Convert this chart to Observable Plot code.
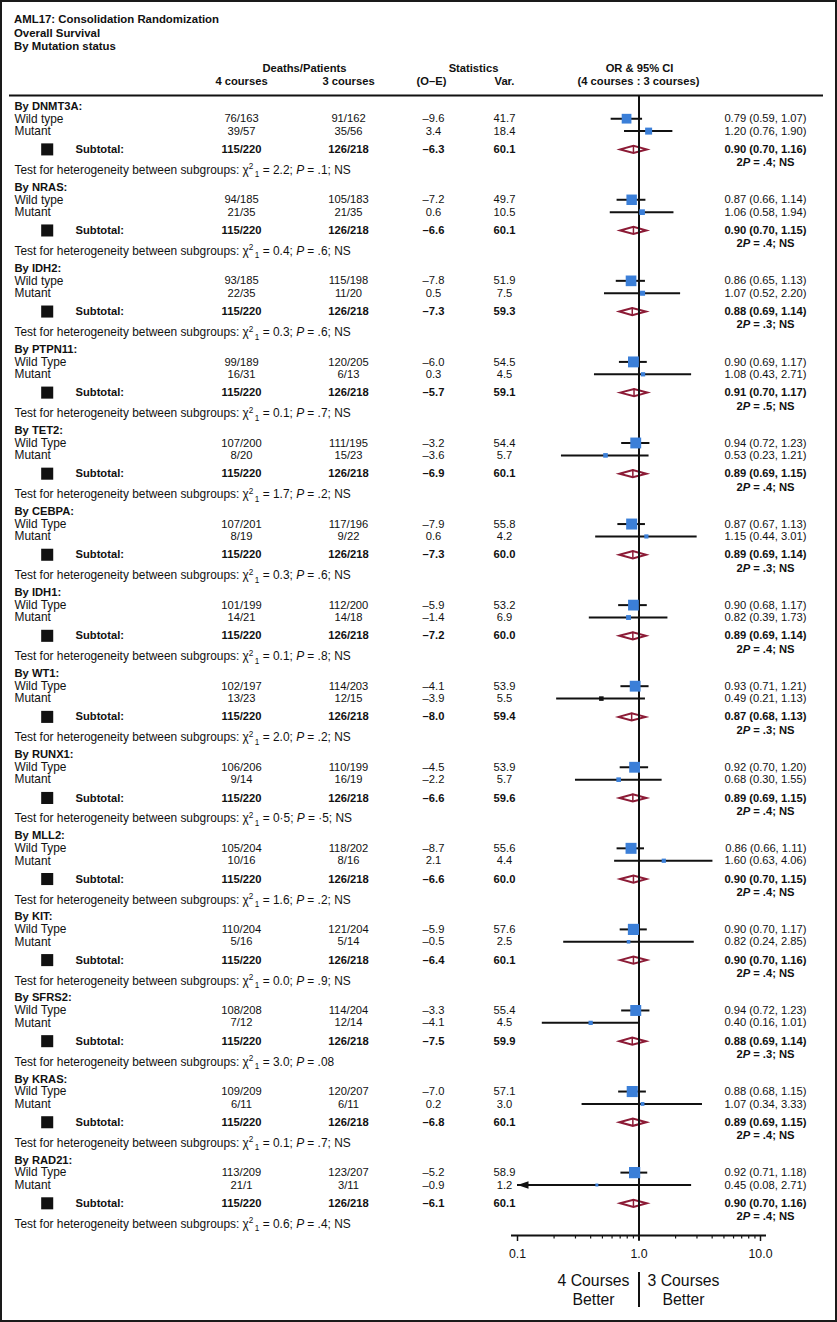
<!DOCTYPE html>
<html><head><meta charset="utf-8">
<script src="https://cdn.jsdelivr.net/npm/d3@7"></script>
<script src="https://cdn.jsdelivr.net/npm/@observablehq/plot@0.6"></script>
<style>
body{margin:0;background:#fff;}
#wrap{position:relative;width:837px;height:1322px;overflow:hidden;font-family:"Liberation Sans",Arial,sans-serif;color:#111;background:#fff;}
#frame{position:absolute;left:0;top:0;width:837px;height:1322px;border:2px solid #1a1a1a;box-sizing:border-box;pointer-events:none;}
#title{position:absolute;left:14px;top:13px;font-weight:bold;font-size:11.4px;line-height:13.6px;}
#chart{position:absolute;left:0;top:56px;}
</style></head><body>
<div id="wrap">
<div id="title">AML17: Consolidation Randomization<br>Overall Survival<br>By Mutation status</div>
<div id="chart"></div>
<div id="frame"></div>
</div>
<script>
// ---------- data ----------
const genes = ["DNMT3A","NRAS","IDH2","PTPN11","TET2","CEBPA","IDH1","WT1","RUNX1","MLL2","KIT","SFRS2","KRAS","RAD21"];
const wtLabels = ["Wild type","Wild type","Wild type","Wild Type","Wild Type","Wild Type","Wild Type","Wild Type","Wild Type","Wild Type","Wild Type","Wild Type","Wild Type","Wild Type"];
const wtDeaths4 = ["76/163","94/185","93/185","99/189","107/200","107/201","101/199","102/197","106/206","105/204","110/204","108/208","109/209","113/209"];
const wtDeaths3 = ["91/162","105/183","115/198","120/205","111/195","117/196","112/200","114/203","110/199","118/202","121/204","114/204","120/207","123/207"];
const wtOE  = [-9.6,-7.2,-7.8,-6.0,-3.2,-7.9,-5.9,-4.1,-4.5,-8.7,-5.9,-3.3,-7.0,-5.2];
const wtVar = [41.7,49.7,51.9,54.5,54.4,55.8,53.2,53.9,53.9,55.6,57.6,55.4,57.1,58.9];
const wtOR  = [0.79,0.87,0.86,0.90,0.94,0.87,0.90,0.93,0.92,0.86,0.90,0.94,0.88,0.92];
const wtLo  = [0.59,0.66,0.65,0.69,0.72,0.67,0.68,0.71,0.70,0.66,0.70,0.72,0.68,0.71];
const wtHi  = [1.07,1.14,1.13,1.17,1.23,1.13,1.17,1.21,1.20,1.11,1.17,1.23,1.15,1.18];
const mutDeaths4 = ["39/57","21/35","22/35","16/31","8/20","8/19","14/21","13/23","9/14","10/16","5/16","7/12","6/11","21/1"];
const mutDeaths3 = ["35/56","21/35","11/20","6/13","15/23","9/22","14/18","12/15","16/19","8/16","5/14","12/14","6/11","3/11"];
const mutOE  = [3.4,0.6,0.5,0.3,-3.6,0.6,-1.4,-3.9,-2.2,2.1,-0.5,-4.1,0.2,-0.9];
const mutVar = [18.4,10.5,7.5,4.5,5.7,4.2,6.9,5.5,5.7,4.4,2.5,4.5,3.0,1.2];
const mutOR  = [1.20,1.06,1.07,1.08,0.53,1.15,0.82,0.49,0.68,1.60,0.82,0.40,1.07,0.45];
const mutLo  = [0.76,0.58,0.52,0.43,0.23,0.44,0.39,0.21,0.30,0.63,0.24,0.16,0.34,0.08];
const mutHi  = [1.90,1.94,2.20,2.71,1.21,3.01,1.73,1.13,1.55,4.06,2.85,1.01,3.33,2.71];
const subDeaths4 = ["115/220","115/220","115/220","115/220","115/220","115/220","115/220","115/220","115/220","115/220","115/220","115/220","115/220","115/220"];
const subDeaths3 = ["126/218","126/218","126/218","126/218","126/218","126/218","126/218","126/218","126/218","126/218","126/218","126/218","126/218","126/218"];
const subOE  = [-6.3,-6.6,-7.3,-5.7,-6.9,-7.3,-7.2,-8.0,-6.6,-6.6,-6.4,-7.5,-6.8,-6.1];
const subVar = [60.1,60.1,59.3,59.1,60.1,60.0,60.0,59.4,59.6,60.0,60.1,59.9,60.1,60.1];
const subOR  = [0.90,0.90,0.88,0.91,0.89,0.89,0.89,0.87,0.89,0.90,0.90,0.88,0.89,0.90];
const subLo  = [0.70,0.70,0.69,0.70,0.69,0.69,0.69,0.68,0.69,0.70,0.70,0.69,0.69,0.70];
const subHi  = [1.16,1.15,1.14,1.17,1.15,1.14,1.14,1.13,1.15,1.15,1.16,1.14,1.15,1.16];
const subP   = [".4",".4",".3",".5",".4",".3",".4",".3",".4",".4",".4",".3",".4",".4"];
const hetChi = ["2.2","0.4","0.3","0.1","1.7","0.3","0.1","2.0","0·5","1.6","0.0","3.0","0.1","0.6"];
const hetP   = [".1",".6",".6",".7",".2",".6",".8",".2","·5",".2",".9",".08",".7",".4"];
const hetNS  = [true,true,true,true,true,true,true,true,true,true,true,false,true,true];
const tickValues = [0.1, 1, 10];
const tickLabels = ["0.1", "1.0", "10.0"];
const minorTicks = [0.2,0.3,0.4,0.5,0.6,0.7,0.8,0.9,2,3,4,5,6,7,8,9];

// ---------- layout ----------
const INK = "#111", BLUE = "#3b7fd8", RED = "#8c1b36";
const W = 837, TOP = 56, H = 1322 - TOP;
const Y0 = 105.6, GAP = 81.07;
const NUM = 11.2, LAB = 11.9;

const fmtOE = v => (v < 0 ? "–" : "") + Math.abs(v).toFixed(1);
const fmtOR = d => `${d.or.toFixed(2)} (${d.lo.toFixed(2)}, ${d.hi.toFixed(2)})`;

const heads = genes.map((g, i) => ({gene: g, y: Y0 + i * GAP, label: `By ${g}:`}));
const studies = genes.flatMap((g, i) => [
  {gene: g, kind: "wt", y: Y0 + i * GAP + 12.6, label: wtLabels[i], d4: wtDeaths4[i], d3: wtDeaths3[i],
   oe: wtOE[i], v: wtVar[i], or: wtOR[i], lo: wtLo[i], hi: wtHi[i]},
  {gene: g, kind: "mut", y: Y0 + i * GAP + 25, label: "Mutant", d4: mutDeaths4[i], d3: mutDeaths3[i],
   oe: mutOE[i], v: mutVar[i], or: mutOR[i], lo: mutLo[i], hi: mutHi[i]}
]);
const subs = genes.map((g, i) => ({gene: g, y: Y0 + i * GAP + 43.3, d4: subDeaths4[i], d3: subDeaths3[i],
  oe: subOE[i], v: subVar[i], or: subOR[i], lo: subLo[i], hi: subHi[i], p: subP[i]}));
const hets = genes.map((g, i) => ({gene: g, y: Y0 + i * GAP + 64,
  text: `Test for heterogeneity between subgroups: χ²₁ = ${hetChi[i]}; P = ${hetP[i]}${hetNS[i] ? "; NS" : ""}`}));
const DH = 3.6;
const diamondPts = subs.flatMap(d => [
  {id: d.gene, x: d.lo, y: d.y}, {id: d.gene, x: d.or, y: d.y - DH},
  {id: d.gene, x: d.hi, y: d.y}, {id: d.gene, x: d.or, y: d.y + DH}
]);
const isBlackMarker = d => d.gene === "WT1" && d.kind === "mut";
const leftTri = {draw(ctx) { ctx.moveTo(-5.5, 0); ctx.lineTo(5.5, -3.8); ctx.lineTo(5.5, 3.8); ctx.closePath(); }};

const t = (data, o) => Plot.text(data, {frameAnchor: "left", lineAnchor: "middle", fill: INK, fontSize: NUM, ...o});
const hdr = (s, px, py) => t([s], {y: () => py, text: d => d, dx: px, textAnchor: "middle", fontWeight: "bold"});

const chart = Plot.plot({
  width: W, height: H, margin: 0,
  style: {fontFamily: "'Liberation Sans', Arial, sans-serif", background: "transparent", color: INK},
  x: {type: "log", domain: [0.1, 10], range: [517, 760], axis: null},
  y: {type: "linear", domain: [TOP, TOP + H], range: [0, H], axis: null},
  r: {type: "sqrt", domain: [0, 60], range: [0.9, 6.4]},
  marks: [
    // column headers
    hdr("Deaths/Patients", 304, 68),
    hdr("4 courses", 241, 81),
    hdr("3 courses", 348, 81),
    hdr("Statistics", 473, 68),
    hdr("(O–E)", 431, 81),
    hdr("Var.", 504, 81),
    hdr("OR & 95% CI", 639, 68),
    hdr("(4 courses : 3 courses)", 638, 81),
    Plot.ruleY([95], {stroke: INK, strokeWidth: 2, insetLeft: 9, insetRight: 14}),

    // group headers
    t(heads, {y: "y", text: "label", dx: 14, textAnchor: "start", fontWeight: "bold"}),

    // study rows
    t(studies, {y: "y", text: "label", dx: 14, textAnchor: "start", fontSize: LAB}),
    t(studies, {y: "y", text: "d4", dx: 241, textAnchor: "middle"}),
    t(studies, {y: "y", text: "d3", dx: 348, textAnchor: "middle"}),
    t(studies, {y: "y", text: d => fmtOE(d.oe), dx: 433, textAnchor: "middle"}),
    t(studies, {y: "y", text: d => d.v.toFixed(1), dx: 504, textAnchor: "middle"}),
    t(studies, {y: "y", text: fmtOR, dx: 806, textAnchor: "end"}),

    // subtotal rows
    Plot.dot(subs, {y: "y", frameAnchor: "left", dx: 46.7, symbol: "square", r: 6.8, fill: INK}),
    t(subs, {y: "y", text: () => "Subtotal:", dx: 75, textAnchor: "start", fontWeight: "bold"}),
    t(subs, {y: "y", text: "d4", dx: 241, textAnchor: "middle", fontWeight: "bold"}),
    t(subs, {y: "y", text: "d3", dx: 348, textAnchor: "middle", fontWeight: "bold"}),
    t(subs, {y: "y", text: d => fmtOE(d.oe), dx: 433, textAnchor: "middle", fontWeight: "bold"}),
    t(subs, {y: "y", text: d => d.v.toFixed(1), dx: 504, textAnchor: "middle", fontWeight: "bold"}),
    t(subs, {y: "y", text: fmtOR, dx: 806, textAnchor: "end", fontWeight: "bold"}),
    t(subs, {y: d => d.y + 13.3, text: d => `2P = ${d.p}; NS`, dx: 765, textAnchor: "middle", fontWeight: "bold"}),

    // heterogeneity tests
    t(hets, {y: "y", text: "text", dx: 14, textAnchor: "start", fontSize: LAB}),

    // confidence intervals
    Plot.ruleY(studies, {y: "y", x1: d => Math.max(d.lo, 0.1), x2: d => Math.min(d.hi, 10), stroke: INK, strokeWidth: 2}),
    Plot.dot(studies.filter(d => d.lo < 0.1), {x: () => 0.1, y: "y", symbol: leftTri, r: 4, fill: INK, dx: 5.5}),

    // subtotal diamonds
    Plot.line(diamondPts, {x: "x", y: "y", z: "id", curve: "linear-closed", fill: "white", stroke: RED,
      strokeWidth: 2, strokeLinejoin: "miter", strokeMiterlimit: 10}),
    Plot.ruleX(subs, {x: "or", y1: d => d.y - DH, y2: d => d.y + DH, stroke: RED, strokeWidth: 1.5}),

    // reference line at 1
    Plot.ruleX([1], {y1: () => 95, y2: () => 1240, stroke: INK, strokeWidth: 2}),

    // squares
    Plot.dot(studies, {filter: d => !isBlackMarker(d), x: "or", y: "y", r: "v", symbol: "square", fill: BLUE}),
    Plot.dot(studies, {filter: isBlackMarker, x: "or", y: "y", r: "v", symbol: "square", fill: INK}),

    // axis
    Plot.ruleY([1235], {x1: () => 0.1, x2: () => 10, insetLeft: -6, insetRight: -6, stroke: INK, strokeWidth: 2}),
    Plot.ruleX(tickValues, {y1: () => 1235, y2: () => 1241, stroke: INK, strokeWidth: 1.5}),
    Plot.ruleX(minorTicks, {y1: () => 1235, y2: () => 1238.5, stroke: INK, strokeWidth: 1.2}),
    Plot.text(tickValues, {x: d => d, y: () => 1254, text: (d, i) => tickLabels[i], fontSize: 12.3, fill: INK}),

    // direction labels
    Plot.text(["4 Courses", "Better"], {x: () => 1, y: (d, i) => [1280, 1299][i], text: d => d, dx: -45.5, fontSize: 15.8, fill: INK}),
    Plot.text(["3 Courses", "Better"], {x: () => 1, y: (d, i) => [1280, 1299][i], text: d => d, dx: 44.5, fontSize: 15.8, fill: INK}),
    Plot.ruleX([1], {y1: () => 1272, y2: () => 1307, stroke: INK, strokeWidth: 2})
  ]
});

// rich text: superscripts, subscripts, italic P
const NS = "http://www.w3.org/2000/svg";
function rebuild(el, parts) {
  while (el.firstChild) el.removeChild(el.firstChild);
  for (const p of parts) {
    const ts = document.createElementNS(NS, "tspan");
    ts.textContent = p.s;
    if (p.dy != null) ts.setAttribute("dy", p.dy);
    if (p.dx != null) ts.setAttribute("dx", p.dx);
    if (p.size) ts.setAttribute("font-size", p.size);
    if (p.italic) ts.setAttribute("font-style", "italic");
    el.appendChild(ts);
  }
}
chart.querySelectorAll("text").forEach(el => {
  const s = el.textContent;
  let m;
  if ((m = s.match(/^(.*χ)²₁( = .*?; )P( = .*)$/))) {
    rebuild(el, [
      {s: m[1]}, {s: "2", dy: -4.5, size: 8.2}, {s: "1", dx: 1.5, dy: 8, size: 8.2},
      {s: m[2], dy: -3.5}, {s: "P", italic: true}, {s: m[3]}
    ]);
  } else if ((m = s.match(/^2P( = .*)$/))) {
    rebuild(el, [{s: "2"}, {s: "P", italic: true}, {s: m[1]}]);
  }
});

document.getElementById("chart").appendChild(chart);
</script>
</body></html>
